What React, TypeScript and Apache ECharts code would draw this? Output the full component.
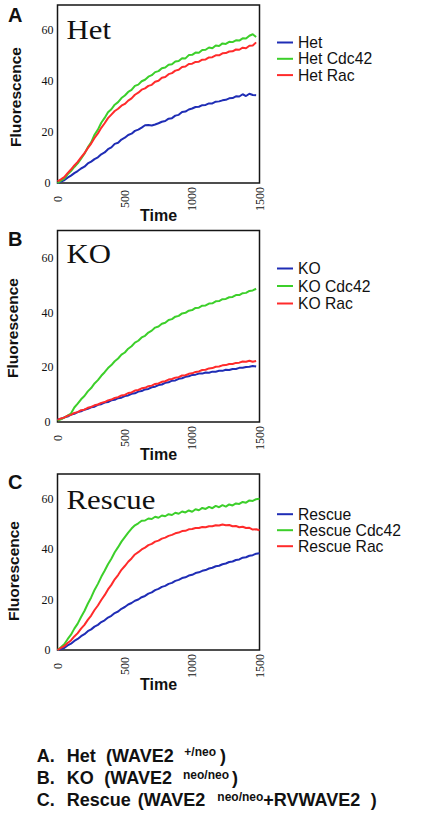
import React, { useEffect, useRef } from "react";
import * as echarts from "echarts";

// Time axis (s)
const TIME = [
  0, 25, 50, 75, 100, 125, 150, 175, 200, 225, 250, 275, 300, 325, 350, 375, 400, 425, 450, 475,
  500, 525, 550, 575, 600, 625, 650, 675, 700, 725, 750, 775, 800, 825, 850, 875, 900, 925, 950, 975,
  1000, 1025, 1050, 1075, 1100, 1125, 1150, 1175, 1200, 1225, 1250, 1275, 1300, 1325, 1350, 1375, 1400, 1425, 1450, 1475,
  1500,
];
const X_TICKS = [0, 500, 1000, 1500];
const Y_TICKS = [0, 20, 40, 60];
const Y_MAX = 70;

// Panel A - Het
const HET = [0, 0.6, 1.1, 2.1, 2.9, 3.9, 4.7, 5.7, 6.4, 7.7, 8.4, 9.4, 10.1, 11.3, 12.0, 13.3, 14.0, 15.4, 15.8, 17.1, 17.8, 18.9, 19.4, 20.5, 21.0, 21.8, 22.7, 22.8, 22.6, 23.0, 23.5, 24.1, 24.4, 25.3, 25.5, 26.5, 26.8, 27.9, 28.1, 28.9, 29.3, 29.9, 30.0, 30.6, 30.7, 31.3, 31.3, 32.0, 32.1, 32.5, 32.7, 33.3, 33.4, 34.1, 34.0, 34.9, 34.2, 35.1, 34.6, 34.5];
const HET_CDC42 = [0, 0.9, 1.7, 3.4, 4.7, 6.3, 7.7, 9.6, 11.5, 14.0, 16.0, 19.0, 21.0, 23.7, 25.6, 27.8, 29.0, 30.8, 31.8, 33.4, 34.4, 35.8, 36.6, 38.2, 38.7, 40.0, 40.6, 41.8, 42.4, 43.6, 44.0, 45.1, 45.4, 46.5, 46.7, 47.8, 48.0, 49.1, 49.0, 50.3, 50.4, 51.3, 51.2, 52.3, 52.4, 53.3, 53.0, 54.1, 53.9, 54.9, 54.7, 55.5, 55.4, 56.1, 56.0, 56.9, 56.8, 57.9, 58.5, 57.4];
const HET_RAC = [0.6, 1.4, 2.3, 3.9, 5.3, 6.9, 8.3, 10.1, 11.7, 13.7, 15.5, 17.7, 19.5, 21.7, 23.5, 25.5, 26.9, 28.3, 29.2, 30.4, 31.1, 32.4, 33.3, 34.7, 35.5, 36.7, 37.2, 38.2, 38.6, 39.8, 40.2, 41.4, 41.7, 42.8, 43.2, 44.2, 44.5, 45.6, 45.8, 46.8, 46.9, 47.6, 47.7, 48.5, 48.6, 49.4, 49.5, 50.2, 50.2, 51.0, 51.1, 51.7, 51.8, 52.5, 52.4, 53.2, 53.0, 54.0, 54.1, 55.3];

// Panel B - KO
const KO = [0.9, 1.1, 1.7, 2.0, 2.7, 3.0, 3.6, 3.9, 4.5, 4.8, 5.4, 5.6, 6.3, 6.5, 7.1, 7.3, 7.9, 8.1, 8.7, 8.9, 9.5, 9.7, 10.3, 10.5, 11.1, 11.3, 11.9, 12.1, 12.7, 12.9, 13.5, 13.7, 14.3, 14.5, 15.1, 15.2, 15.8, 16.0, 16.5, 16.7, 17.2, 17.3, 17.7, 17.7, 18.1, 18.0, 18.4, 18.4, 18.7, 18.7, 19.1, 19.0, 19.4, 19.4, 19.8, 19.8, 20.1, 20.2, 20.5, 20.3];
const KO_CDC42 = [0.5, 1.0, 1.6, 2.3, 3.1, 5.3, 6.7, 8.3, 9.5, 11.2, 12.4, 14.1, 15.3, 16.9, 18.2, 19.7, 20.8, 22.2, 23.2, 24.6, 25.4, 26.8, 27.7, 29.0, 29.7, 30.9, 31.5, 32.7, 33.4, 34.5, 34.9, 35.9, 36.3, 37.3, 37.6, 38.5, 38.8, 39.7, 39.9, 40.7, 40.9, 41.7, 41.8, 42.5, 42.6, 43.3, 43.4, 44.1, 44.2, 44.9, 45.0, 45.6, 45.7, 46.4, 46.4, 47.1, 47.2, 47.9, 48.1, 48.7];
const KO_RAC = [0.8, 1.3, 1.6, 2.3, 2.6, 3.3, 3.6, 4.3, 4.5, 5.2, 5.5, 6.1, 6.4, 7.0, 7.3, 7.9, 8.2, 8.8, 9.1, 9.7, 9.9, 10.6, 10.8, 11.5, 11.7, 12.3, 12.5, 13.1, 13.3, 13.9, 14.1, 14.7, 14.9, 15.5, 15.7, 16.2, 16.4, 17.0, 17.1, 17.6, 17.8, 18.3, 18.5, 19.0, 19.1, 19.6, 19.7, 20.2, 20.3, 20.7, 20.8, 21.2, 21.2, 21.6, 21.7, 22.1, 22.0, 22.4, 22.0, 22.3];

// Panel C - Rescue
const RESCUE = [0, 0.4, 0.8, 1.8, 2.5, 3.6, 4.4, 5.5, 6.3, 7.5, 8.2, 9.3, 10.0, 11.1, 11.8, 12.9, 13.6, 14.7, 15.3, 16.4, 17.1, 18.1, 18.7, 19.6, 20.1, 21.0, 21.5, 22.4, 22.9, 23.8, 24.3, 25.1, 25.5, 26.3, 26.7, 27.5, 27.9, 28.6, 28.9, 29.6, 29.9, 30.6, 30.9, 31.5, 31.8, 32.4, 32.7, 33.3, 33.5, 34.1, 34.4, 35.0, 35.2, 35.8, 36.0, 36.7, 36.9, 37.5, 37.7, 38.3, 38.5];
const RESCUE_CDC42 = [0, 1.1, 2.3, 4.3, 6.1, 8.5, 10.5, 13.1, 15.5, 18.4, 20.9, 23.9, 26.3, 29.1, 31.5, 34.1, 36.3, 38.9, 40.9, 43.1, 44.9, 46.7, 48.3, 49.6, 50.4, 51.4, 51.5, 52.3, 52.1, 53.0, 52.6, 53.5, 53.2, 54.0, 53.7, 54.6, 54.2, 55.1, 54.7, 55.5, 55.0, 56.0, 55.6, 56.5, 56.1, 56.9, 56.4, 57.3, 56.8, 57.6, 57.0, 57.9, 57.5, 58.3, 58.1, 58.9, 58.6, 59.5, 59.3, 60.0, 60.2];
const RESCUE_RAC = [0, 0.8, 1.5, 2.8, 3.8, 5.4, 6.7, 8.5, 10.0, 12.0, 13.7, 15.9, 17.7, 19.9, 21.8, 24.1, 25.9, 28.1, 29.8, 31.9, 33.4, 35.1, 36.4, 38.0, 38.9, 40.0, 40.7, 41.7, 42.2, 43.1, 43.5, 44.3, 44.7, 45.4, 45.8, 46.4, 46.7, 47.3, 47.4, 48.0, 48.1, 48.5, 48.5, 48.9, 48.8, 49.2, 49.2, 49.6, 49.5, 49.9, 49.6, 49.7, 49.2, 49.3, 48.8, 49.0, 48.5, 48.6, 47.9, 48.0, 47.6];

const PANEL_LETTERS = ["A", "B", "C"];
const PANEL_TITLES = ["Het", "KO", "Rescue"];
const SERIES_NAMES = [
  ["Het", "Het Cdc42", "Het Rac"],
  ["KO", "KO Cdc42", "KO Rac"],
  ["Rescue", "Rescue Cdc42", "Rescue Rac"],
];
const SERIES_VALUES = [
  [HET, HET_CDC42, HET_RAC],
  [KO, KO_CDC42, KO_RAC],
  [RESCUE, RESCUE_CDC42, RESCUE_RAC],
];
const X_NAME = "Time";
const Y_NAME = "Fluorescence";
const CAPTIONS = [
  ["A.", "Het", "(WAVE2", "+/neo", ")", ""],
  ["B.", "KO", "(WAVE2", "neo/neo", ")", ""],
  ["C.", "Rescue", "(WAVE2", "neo/neo", ")", "+RVWAVE2"],
];

// ---- styling / layout ----
const COLORS = ["#1f2db5", "#3ccf2a", "#ff2b2b"];
const SANS = "'Liberation Sans', Arial, Helvetica, sans-serif";
const SERIF = "'Liberation Serif', 'Times New Roman', serif";
const INK = "#111111";

const GRID_LEFT = 57.5;
const GRID_RIGHT = 259.5;
const GRID_TB = [
  [5, 183],
  [230.5, 422],
  [474, 650],
];
const LETTER_Y = [15.3, 239, 482];
const TITLE_Y = [29.2, 253, 499];
const YNAME_POS = [
  [15, 97],
  [12.5, 328],
  [13.7, 571],
];
const XNAME_Y = [215.5, 454, 684];
const LEGEND_TOP = [34.5, 260.5, 506.2];
const LEGEND_GAP = [0.3, 1.5, 0];
const CAPTION_Y = [755.5, 778, 800.3];
const CAPTION_X = [
  [36.7, 66.7, 106, 184.3, 220, 0],
  [36.7, 66.7, 104.3, 183, 232, 0],
  [36.7, 66.7, 137.7, 217.3, 370.7, 263.3],
];

function buildOption(): any {
  const grid = GRID_TB.map(([t, b]) => ({
    left: GRID_LEFT,
    top: t,
    width: GRID_RIGHT - GRID_LEFT,
    height: b - t,
    show: true,
    borderColor: "#151515",
    borderWidth: 1.5,
    backgroundColor: "transparent",
  }));

  const xAxis = GRID_TB.map((_, i) => ({
    type: "value",
    gridIndex: i,
    min: X_TICKS[0],
    max: X_TICKS[X_TICKS.length - 1],
    interval: X_TICKS[1] - X_TICKS[0],
    axisLine: { show: false },
    axisTick: { show: false },
    splitLine: { show: false },
    axisLabel: {
      rotate: 90,
      align: "center",
      margin: 16,
      fontFamily: SERIF,
      fontSize: 12,
      color: INK,
      formatter: (v: number) => String(v),
    },
  }));

  const yAxis = GRID_TB.map((_, i) => ({
    type: "value",
    gridIndex: i,
    min: Y_TICKS[0],
    max: Y_MAX,
    interval: Y_TICKS[1] - Y_TICKS[0],
    axisLine: { show: false },
    axisTick: { show: false },
    splitLine: { show: false },
    axisLabel: {
      showMaxLabel: false,
      align: "center",
      margin: 10,
      fontFamily: SERIF,
      fontSize: 12,
      color: INK,
      formatter: (v: number) => String(v),
    },
  }));

  const series: any[] = [];
  SERIES_VALUES.forEach((group, p) => {
    group.forEach((vals, s) => {
      series.push({
        type: "line",
        name: SERIES_NAMES[p][s],
        xAxisIndex: p,
        yAxisIndex: p,
        showSymbol: false,
        symbol: "none",
        color: COLORS[s],
        lineStyle: { width: 2, color: COLORS[s] },
        data: vals.map((v, k) => [TIME[k], v]),
        z: 3,
      });
    });
  });

  const legend = SERIES_NAMES.map((names, i) => ({
    data: names,
    orient: "vertical",
    left: 277,
    top: LEGEND_TOP[i],
    padding: 0,
    itemGap: LEGEND_GAP[i],
    itemWidth: 16,
    itemHeight: 2,
    icon: "rect",
    selectedMode: false,
    textStyle: {
      fontFamily: SANS,
      fontSize: 15.7,
      lineHeight: 12.5,
      color: INK,
    },
  }));

  const graphic: any[] = [];
  PANEL_LETTERS.forEach((l, i) => {
    graphic.push({
      type: "text",
      x: 8,
      y: LETTER_Y[i],
      style: {
        text: l,
        font: `bold 20px ${SANS}`,
        fill: INK,
        align: "left",
        verticalAlign: "middle",
      },
    });
    graphic.push({
      type: "text",
      x: 66.5,
      y: TITLE_Y[i],
      scaleX: 1.1,
      z: 10,
      style: {
        text: PANEL_TITLES[i],
        font: `28px ${SERIF}`,
        fill: INK,
        align: "left",
        verticalAlign: "middle",
      },
    });
    graphic.push({
      type: "text",
      x: YNAME_POS[i][0],
      y: YNAME_POS[i][1],
      rotation: Math.PI / 2,
      style: {
        text: Y_NAME,
        font: `bold 15.5px ${SANS}`,
        fill: INK,
        align: "center",
        verticalAlign: "middle",
      },
    });
    graphic.push({
      type: "text",
      x: (GRID_LEFT + GRID_RIGHT) / 2,
      y: XNAME_Y[i],
      style: {
        text: X_NAME,
        font: `bold 16px ${SANS}`,
        fill: INK,
        align: "center",
        verticalAlign: "middle",
      },
    });
  });

  CAPTIONS.forEach((row, r) => {
    row.forEach((txt, k) => {
      if (!txt) return;
      const isSup = k === 3;
      graphic.push({
        type: "text",
        x: CAPTION_X[r][k],
        y: isSup ? CAPTION_Y[r] - 3.5 : CAPTION_Y[r],
        style: {
          text: txt,
          font: isSup ? `bold 12px ${SANS}` : `bold 18px ${SANS}`,
          fill: INK,
          align: "left",
          verticalAlign: "middle",
        },
      });
    });
  });

  return {
    animation: false,
    backgroundColor: "#ffffff",
    grid,
    xAxis,
    yAxis,
    legend,
    series,
    graphic,
  };
}

export default function App() {
  const ref = useRef<HTMLDivElement>(null);
  useEffect(() => {
    if (!ref.current) return;
    const chart = echarts.init(ref.current, undefined, { renderer: "svg" });
    chart.setOption(buildOption());
    return () => chart.dispose();
  }, []);
  return (
    <div
      ref={ref}
      style={{ position: "absolute", left: 0, top: 0, width: 421, height: 821 }}
    />
  );
}
